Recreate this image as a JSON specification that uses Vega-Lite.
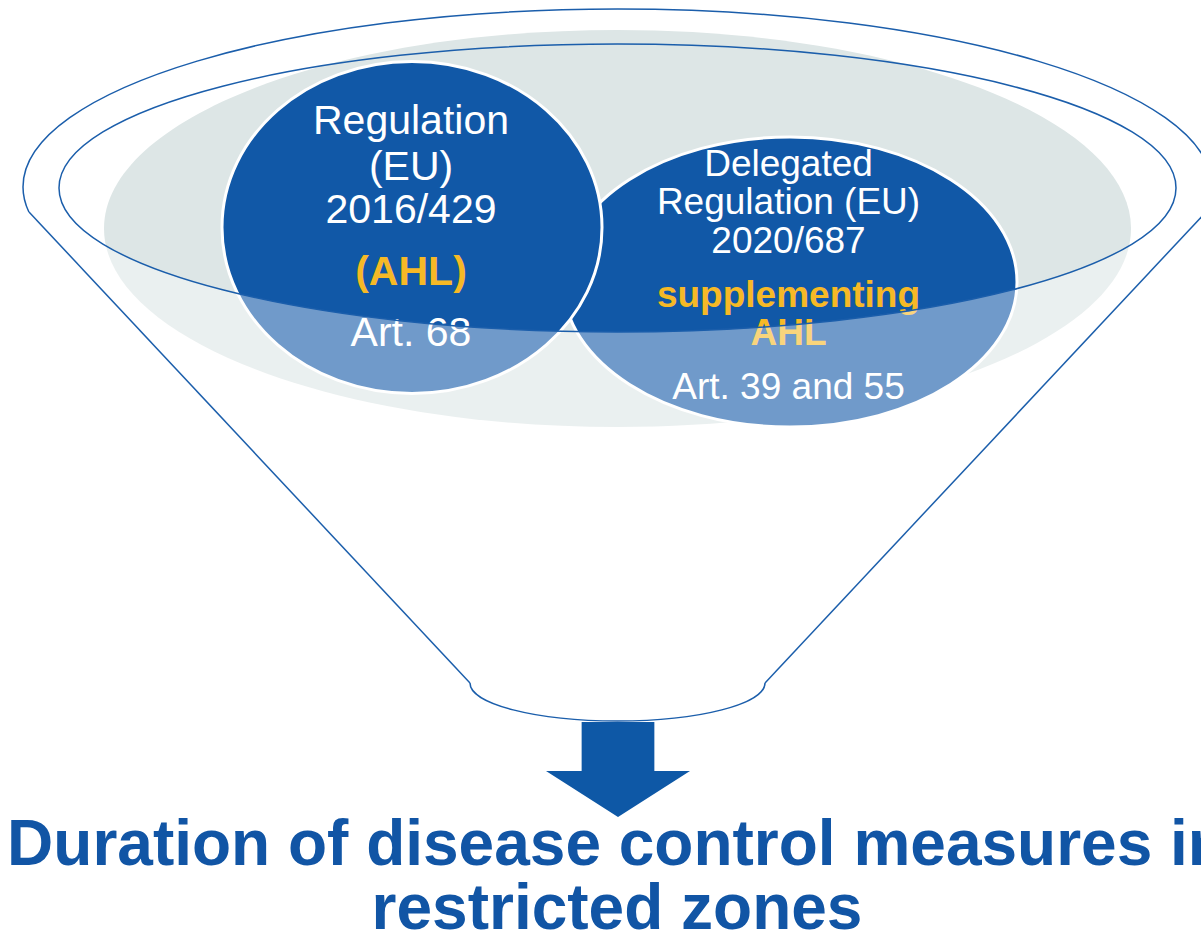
{
  "$schema": "https://vega.github.io/schema/vega-lite/v6.json",
  "width": 1201,
  "height": 936,
  "autosize": {"type": "none"},
  "padding": 0,
  "background": "white",
  "config": {"view": {"stroke": null}, "font": "Liberation Sans"},
  "datasets": {
    "parts": [
      {"part": "bowl", "x": 617.5, "y": 228.5},
      {"part": "right", "x": 790, "y": 282},
      {"part": "left", "x": 412, "y": 227.5},
      {"part": "mouth", "x": 617.5, "y": 188},
      {"part": "rim", "x": 617.5, "y": 187},
      {"part": "neck", "x": 617.5, "y": 683},
      {"part": "arrow", "x": 618, "y": 769.5}
    ],
    "sides": [
      {"side": "left", "x": 29, "y": 212},
      {"side": "left", "x": 470, "y": 683},
      {"side": "right", "x": 1206, "y": 212},
      {"side": "right", "x": 765, "y": 683}
    ],
    "labels": [
      {"role": "plain", "size": "left", "x": 411, "y": 134, "text": "Regulation"},
      {"role": "plain", "size": "left", "x": 411, "y": 180, "text": "(EU)"},
      {"role": "plain", "size": "left", "x": 411, "y": 223, "text": "2016/429"},
      {"role": "key", "size": "left", "x": 411, "y": 285, "text": "(AHL)"},
      {"role": "plain", "size": "left", "x": 411, "y": 346, "text": "Art. 68"},
      {"role": "plain", "size": "right", "x": 788.5, "y": 176, "text": "Delegated"},
      {"role": "plain", "size": "right", "x": 788.5, "y": 214, "text": "Regulation (EU)"},
      {"role": "plain", "size": "right", "x": 788.5, "y": 253, "text": "2020/687"},
      {"role": "key", "size": "right", "x": 788.5, "y": 307, "text": "supplementing"},
      {"role": "key", "size": "right", "x": 788.5, "y": 345, "text": "AHL"},
      {"role": "plain", "size": "right", "x": 788.5, "y": 399, "text": "Art. 39 and 55"}
    ],
    "title": [
      {"x": 617, "y": 865, "text": "Duration of disease control measures in"},
      {"x": 617, "y": 929, "text": "restricted zones"}
    ]
  },
  "encoding": {
    "x": {"field": "x", "type": "quantitative", "scale": {"domain": [0, 1201], "nice": false, "zero": false}, "axis": null},
    "y": {"field": "y", "type": "quantitative", "scale": {"domain": [0, 936], "nice": false, "zero": false, "reverse": true}, "axis": null}
  },
  "layer": [
    {
      "data": {"name": "parts"},
      "transform": [{"filter": "datum.part == 'bowl'"}],
      "mark": {"type": "point", "filled": true, "opacity": 1, "fill": "#DDE6E6", "strokeWidth": 0, "size": 1054729,
        "shape": "M-1,0C-1,-0.2135,-0.5523,-0.3866,0,-0.3866C0.5523,-0.3866,1,-0.2135,1,0C1,0.2135,0.5523,0.3866,0,0.3866C-0.5523,0.3866,-1,0.2135,-1,0Z"}
    },
    {
      "data": {"name": "parts"},
      "transform": [{"filter": "datum.part == 'right'"}],
      "mark": {"type": "point", "filled": true, "opacity": 1, "fill": "#1158A7", "stroke": "white", "strokeWidth": 3, "size": 206116,
        "shape": "M-1,0C-1,-0.3528,-0.5523,-0.6388,0,-0.6388C0.5523,-0.6388,1,-0.3528,1,0C1,0.3528,0.5523,0.6388,0,0.6388C-0.5523,0.6388,-1,0.3528,-1,0Z"}
    },
    {
      "data": {"name": "parts"},
      "transform": [{"filter": "datum.part == 'left'"}],
      "mark": {"type": "point", "filled": true, "opacity": 1, "fill": "#1158A7", "stroke": "white", "strokeWidth": 3, "size": 144400,
        "shape": "M-1,0C-1,-0.4825,-0.5523,-0.8737,0,-0.8737C0.5523,-0.8737,1,-0.4825,1,0C1,0.4825,0.5523,0.8737,0,0.8737C-0.5523,0.8737,-1,0.4825,-1,0Z"}
    },
    {
      "data": {"name": "labels"},
      "transform": [{"filter": "datum.role == 'plain' && datum.size == 'left'"}],
      "mark": {"type": "text", "baseline": "alphabetic", "align": "center", "fontSize": 41, "color": "white", "font": "Liberation Sans"},
      "encoding": {"text": {"field": "text"}}
    },
    {
      "data": {"name": "labels"},
      "transform": [{"filter": "datum.role == 'plain' && datum.size == 'right'"}],
      "mark": {"type": "text", "baseline": "alphabetic", "align": "center", "fontSize": 37, "color": "white", "font": "Liberation Sans"},
      "encoding": {"text": {"field": "text"}}
    },
    {
      "data": {"name": "labels"},
      "transform": [{"filter": "datum.role == 'key' && datum.size == 'left'"}],
      "mark": {"type": "text", "baseline": "alphabetic", "align": "center", "fontSize": 41, "fontWeight": "bold", "color": "#F6B926", "font": "Liberation Sans"},
      "encoding": {"text": {"field": "text"}}
    },
    {
      "data": {"name": "labels"},
      "transform": [{"filter": "datum.role == 'key' && datum.size == 'right'"}],
      "mark": {"type": "text", "baseline": "alphabetic", "align": "center", "fontSize": 37, "fontWeight": "bold", "color": "#F6B926", "font": "Liberation Sans"},
      "encoding": {"text": {"field": "text"}}
    },
    {
      "data": {"name": "parts"},
      "transform": [{"filter": "datum.part == 'mouth'"}],
      "mark": {"type": "point", "filled": true, "opacity": 1, "fill": "white", "fillOpacity": 0.4, "strokeWidth": 0, "size": 1247689,
        "shape": "M-1,0C-1,0.1424,-0.5523,0.2578,0,0.2578C0.5523,0.2578,1,0.1424,1,0L1,0.45L-1,0.45Z"}
    },
    {
      "data": {"name": "parts"},
      "transform": [{"filter": "datum.part == 'mouth'"}],
      "mark": {"type": "point", "filled": false, "opacity": 1, "fill": "transparent", "stroke": "#1B5EAB", "strokeWidth": 1.5, "size": 1247689,
        "shape": "M-1,0C-1,-0.1424,-0.5523,-0.2578,0,-0.2578C0.5523,-0.2578,1,-0.1424,1,0C1,0.1424,0.5523,0.2578,0,0.2578C-0.5523,0.2578,-1,0.1424,-1,0Z"}
    },
    {
      "data": {"name": "parts"},
      "transform": [{"filter": "datum.part == 'rim'"}],
      "mark": {"type": "point", "filled": false, "opacity": 1, "fill": "transparent", "stroke": "#1B5EAB", "strokeWidth": 1.5, "size": 1413721,
        "shape": "M-0.9901,0.042C-0.9967,0.0281,-1,0.0141,-1,0C-1,-0.1654,-0.5523,-0.2994,0,-0.2994C0.5523,-0.2994,1,-0.1654,1,0C1,0.0141,0.9967,0.0281,0.9901,0.042"}
    },
    {
      "data": {"name": "sides"},
      "mark": {"type": "line", "stroke": "#1B5EAB", "strokeWidth": 1.5},
      "encoding": {"detail": {"field": "side"}}
    },
    {
      "data": {"name": "parts"},
      "transform": [{"filter": "datum.part == 'neck'"}],
      "mark": {"type": "point", "filled": false, "opacity": 1, "fill": "transparent", "stroke": "#1B5EAB", "strokeWidth": 1.5, "size": 87025,
        "shape": "M-1,0C-1,0.1423,-0.5523,0.2576,0,0.2576C0.5523,0.2576,1,0.1423,1,0"}
    },
    {
      "data": {"name": "parts"},
      "transform": [{"filter": "datum.part == 'arrow'"}],
      "mark": {"type": "point", "filled": true, "opacity": 1, "fill": "#0E58A6", "strokeWidth": 0, "size": 20736,
        "shape": "M-0.505,-0.66L0.505,-0.66L0.505,0.02L1,0.02L0,0.66L-1,0.02L-0.505,0.02Z"}
    },
    {
      "data": {"name": "title"},
      "mark": {"type": "text", "baseline": "alphabetic", "align": "center", "fontSize": 64, "fontWeight": "bold", "color": "#1155A5", "font": "Liberation Sans"},
      "encoding": {"text": {"field": "text"}}
    }
  ]
}
